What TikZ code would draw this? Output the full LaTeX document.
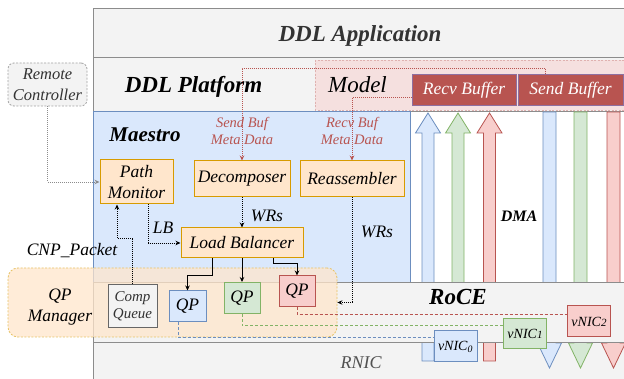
\documentclass[tikz,border=0pt]{standalone}
\usepackage{fontspec}
\setmainfont{Liberation Serif}
\usetikzlibrary{arrows.meta}
\definecolor{grayF}{HTML}{F3F3F3}
\definecolor{grayB}{HTML}{8C8C8C}
\definecolor{blueF}{HTML}{DAE8FC}
\definecolor{blueB}{HTML}{6C8EBF}
\definecolor{greenF}{HTML}{D5E8D4}
\definecolor{greenB}{HTML}{82B366}
\definecolor{redF}{HTML}{F8CECC}
\definecolor{redB}{HTML}{B85450}
\definecolor{orangeF}{HTML}{FFE6CC}
\definecolor{orangeB}{HTML}{D79B00}
\definecolor{bufB}{HTML}{8E6FA0}
\definecolor{txtgray}{HTML}{333333}
\definecolor{cqB}{HTML}{666666}
\newcommand\myuparrow[3]{\filldraw[fill=#2,draw=#3,line width=0.8pt] ({#1-6},361) -- ({#1-6},133) -- ({#1-12.5},133) -- (#1,113) -- ({#1+12.5},133) -- ({#1+6},133) -- ({#1+6},361) -- cycle;}
\newcommand\mydownarrow[3]{\filldraw[fill=#2,draw=#3,line width=0.8pt] ({#1-6.5},112) -- ({#1-6.5},343) -- ({#1-12},343) -- (#1,368) -- ({#1+12},343) -- ({#1+6.5},343) -- ({#1+6.5},112) -- cycle;}
\begin{document}
\begin{tikzpicture}[x=1pt,y=-1pt,
 every node/.style={inner sep=0pt,align=center,font=\fontsize{17.5}{21}\selectfont\itshape},
 layer/.style={draw=grayB,fill=grayF,line width=1pt},
 obox/.style={draw=orangeB,fill=orangeF,line width=1pt},
 qpbox/.style={line width=1pt,minimum width=37pt,minimum height=31pt},
 vnic/.style={line width=1pt,minimum width=43pt,minimum height=31pt,font=\fontsize{14}{14}\selectfont\itshape},
 buf/.style={draw=bufB,fill=redB,text=white,line width=1pt,minimum width=104pt,minimum height=31pt},
 dotarrow/.style={line width=0.8pt,dash pattern=on 1pt off 1pt,-{Stealth[length=5pt,width=4.5pt]}},
 solidarrow/.style={line width=1pt,-{Stealth[length=5pt,width=4.5pt]}},
 qpdash/.style={line width=1pt,dash pattern=on 3pt off 2pt},
 title/.style={font=\fontsize{23}{23}\selectfont\bfseries\itshape},
 meta/.style={text=redB,font=\fontsize{14.5}{17}\selectfont\itshape},
]
\useasboundingbox (0,0) rectangle (624,379);
\fill[white] (0,0) rectangle (624,379);
% layers
\draw[layer] (93,9) rectangle (640,58);
\draw[layer] (93,58) rectangle (640,112);
\draw[fill=redF,fill opacity=0.5,draw=redB!45,line width=0.8pt,dash pattern=on 2pt off 1.5pt] (315,60) rectangle (640,110);
\draw[layer] (93,343) rectangle (640,400);
% DMA arrows
\myuparrow{428}{blueF}{blueB}
\myuparrow{458}{greenF}{greenB}
\myuparrow{489.5}{redF}{redB}
\mydownarrow{549.5}{blueF}{blueB}
\mydownarrow{580.5}{greenF}{greenB}
\mydownarrow{613.5}{redF}{redB}
% Maestro
\draw[draw=blueB,fill=blueF,line width=1pt] (93,112) rectangle (410,283);
% RoCE
\draw[layer] (93,283) rectangle (640,343);
% titles
\node[title,text=txtgray,anchor=base] (tapp) at (360,42) {DDL Application};
\node[title,anchor=base] (tplat) at (193.5,93) {DDL Platform};
\node[font=\fontsize{23}{23}\selectfont\itshape,anchor=base] (tmodel) at (357.5,93) {Model};
\node[font=\fontsize{21}{21}\selectfont\bfseries\itshape,anchor=base] (tmae) at (145,142) {Maestro};
\node[font=\fontsize{23}{23}\selectfont\bfseries\itshape,anchor=base] (troce) at (458,305) {RoCE};
\node[font=\fontsize{16}{16}\selectfont\bfseries\itshape,anchor=base] (tdma) at (519,222) {DMA};
\node[font=\fontsize{18}{18}\selectfont\itshape,text=txtgray!85,anchor=base] (trnic) at (361,368) {RNIC};
% buffers
\node[buf] (rb) at (464,90.5) {Recv Buffer};
\node[buf,minimum width=105pt] (sb) at (570.5,90.5) {Send Buffer};
% remote controller
\node[draw=grayB!80,fill=grayF,line width=0.8pt,dash pattern=on 2pt off 1.5pt,rounded corners=6pt,minimum width=79pt,minimum height=43pt,text=txtgray,font=\fontsize{16.5}{21}\selectfont\itshape] (rc) at (47.5,84.5) {Remote\\Controller};
% Maestro boxes
\node[obox,minimum width=73pt,minimum height=44pt] (pm) at (136.5,182) {Path\\Monitor};
\node[obox,minimum width=96pt,minimum height=36pt] (dc) at (242,179) {Decomposer};
\node[obox,minimum width=104pt,minimum height=36pt] (ra) at (352,179) {Reassembler};
\node[obox,minimum width=122pt,minimum height=30pt] (lb) at (242,243) {Load Balancer};
\node[meta] (smeta) at (242,131) {Send Buf\\Meta Data};
\node[meta] (rmeta) at (352,131) {Recv Buf\\Meta Data};
% QP manager region
\node[draw=orangeB!60,fill=orangeF,fill opacity=0.75,line width=0.8pt,dash pattern=on 2pt off 1.5pt,rounded corners=10pt,minimum width=329pt,minimum height=69pt] (qpm) at (172.5,302.5) {};
\node (qpmt) at (60,307) {QP\\Manager};
\node[anchor=base] (cnp) at (72,256) {CNP\_Packet};
\node[draw=cqB,fill=grayF,line width=1pt,minimum width=49pt,minimum height=43pt,text=txtgray,font=\fontsize{15}{17}\selectfont\itshape] (cq) at (132.5,306.5) {Comp\\Queue};
\node[qpbox,draw=blueB,fill=blueF] (qb) at (187.5,306.5) {QP};
\node[qpbox,draw=greenB,fill=greenF,minimum width=36pt] (qg) at (242,298) {QP};
\node[qpbox,draw=redB,fill=redF,minimum width=36pt] (qr) at (297,291.5) {QP};
% vNICs
\node[vnic,draw=blueB,fill=blueF] (v0) at (455.5,346.5) {vNIC\textsubscript{0}};
\node[vnic,draw=greenB,fill=greenF,minimum height=30pt] (v1) at (525,334) {vNIC{\fontsize{11}{11}\selectfont 1}};
\node[vnic,draw=redB,fill=redF] (v2) at (589,321.5) {vNIC{\fontsize{11}{11}\selectfont 2}};
% labels
\node[anchor=base] (llb) at (163,234) {LB};
\node[anchor=base] (lwr1) at (267,222) {WRs};
\node[anchor=base] (lwr2) at (377,238) {WRs};
% connectors
\draw[dotarrow,draw=grayB] (rc.south) |- (pm.west);
\draw[dotarrow,draw=redB] ([xshift=-25.5pt]sb.north) -- ++(0,-6) -| (dc.north);
\draw[dotarrow,draw=redB] ([yshift=-7pt]rb.west) -| (ra.north);
\draw[dotarrow] ([xshift=11.5pt]pm.south) |- (lb.west);
\draw[dotarrow] (dc.south) -- (lb.north);
\draw[dotarrow] (ra.south) |- (qpm.east);
\draw[dotarrow] (cq.north) -- ++(0,-46) -| ([xshift=-19.5pt]pm.south);
\draw[solidarrow] ([xshift=-30pt]lb.south) -- ++(0,17) -| (qb.north);
\draw[solidarrow] (lb.south) -- (qg.north);
\draw[solidarrow] ([xshift=31pt]lb.south) -- ++(0,5) -| (qr.north);
\draw[qpdash,draw=blueB] ([xshift=-9.5pt]qb.south) |- ([yshift=8.5pt]v0.west);
\draw[qpdash,draw=greenB] (qg.south) |- ([yshift=8pt]v1.west);
\draw[qpdash,draw=redB] (qr.south) |- ([yshift=6.5pt]v2.west);
\end{tikzpicture}
\end{document}
